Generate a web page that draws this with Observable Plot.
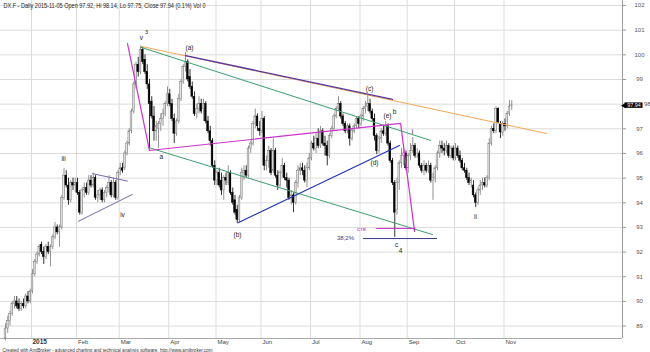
<!DOCTYPE html>
<html><head><meta charset="utf-8">
<script src="https://cdn.jsdelivr.net/npm/d3@7"></script>
<script src="https://cdn.jsdelivr.net/npm/@observablehq/plot@0.6"></script>
<style>
html,body{margin:0;padding:0;background:#fff;}
#chart svg{display:block;}
</style></head><body><div id="chart"></div>
<script>
const title = "DX.F - Daily 2015-11-05 Open 97.92, Hi 98.14, Lo 97.75, Close 97.94 (0.1%) Vol 0";
const credit = "Created with AmiBroker - advanced charting and technical analysis software. http://www.amibroker.com";

// daily candles [open, high, low, close], mid-Dec 2014 .. 2015-11-05
const candles = [
[88.5,89.1,88.4,88.9],[88.9,89.4,88.7,89.2],[89.2,89.6,89.0,89.5],[89.5,90.0,89.4,89.9],[89.9,90.2,89.7,90.0],[90.0,90.2,89.7,89.8],[89.9,90.1,89.6,89.7],[89.7,90.0,89.6,89.9],[89.9,90.1,89.7,89.8],[89.8,90.3,89.7,90.2],[90.2,90.4,89.9,90.0],[90.0,90.5,89.9,90.4],
[90.4,91.3,90.3,91.1],[91.1,91.7,91.0,91.6],[91.6,92.0,91.5,91.9],[91.9,92.3,91.8,92.2],[92.3,92.4,91.9,92.0],[92.0,92.2,91.5,91.8],[91.8,92.3,91.7,92.2],[92.2,92.4,91.9,92.0],[92.0,92.3,91.4,92.2],[92.2,92.7,92.1,92.6],[92.6,93.2,92.5,93.0],[93.0,93.1,92.7,92.8],[92.8,93.1,92.2,93.0],[93.0,94.3,92.9,94.2],[94.2,95.4,94.1,95.1],[95.1,95.3,94.6,94.7],[94.7,95.0,93.9,94.1],[94.1,94.9,94.0,94.8],[94.8,95.0,94.5,94.7],[94.7,95.0,94.4,94.8],
[94.8,95.0,94.3,94.4],[94.4,94.5,93.5,93.6],[93.6,94.6,93.5,94.5],[94.5,94.8,94.2,94.6],[94.6,94.8,94.3,94.4],[94.4,95.1,94.3,94.9],[94.9,95.1,94.6,94.7],[94.7,95.2,94.6,95.0],[95.0,95.1,94.1,94.2],[94.2,94.5,94.0,94.3],[94.3,94.6,94.1,94.5],[94.5,94.6,94.0,94.1],[94.1,94.5,94.0,94.4],[94.4,94.7,94.2,94.6],[94.6,95.1,94.4,94.8],[94.8,94.9,94.2,94.3],[94.3,95.0,94.2,94.8],[94.8,94.9,94.1,94.2],[94.2,95.3,94.1,95.2],
[95.2,95.6,95.1,95.4],[95.4,95.6,95.2,95.3],[95.4,96.1,95.3,96.0],[96.0,96.5,95.9,96.4],[96.4,97.0,96.3,96.9],[96.9,97.8,96.8,97.7],[97.7,98.9,97.6,98.8],[98.8,99.7,98.6,99.6],[99.6,99.9,99.1,99.3],[99.3,100.35,99.2,100.2],[100.2,100.3,99.6,99.7],[99.8,100.0,99.2,99.3],[99.3,99.6,98.6,98.8],[98.8,99.0,96.15,98.0],[98.1,98.3,97.4,97.5],[97.5,97.9,96.5,96.9],[96.9,97.3,96.5,97.1],[97.0,97.3,96.2,97.2],[97.2,97.6,96.9,97.4],[97.4,97.8,97.1,97.6],[97.6,98.1,97.5,98.0],[98.0,98.7,97.9,98.4],
[98.4,98.6,97.9,98.0],[98.0,98.2,97.3,97.4],[97.4,97.6,96.4,96.8],[96.8,97.4,96.7,97.3],[97.3,98.4,97.2,98.2],[98.2,99.0,98.1,98.9],[98.9,99.6,98.8,99.5],[99.5,100.1,99.3,99.7],[99.7,99.8,98.9,99.0],[99.1,99.4,98.6,98.7],[98.7,98.9,98.2,98.3],[98.3,98.5,97.5,97.6],[97.6,98.0,97.4,97.8],[97.8,98.3,97.6,98.0],[98.0,98.2,97.6,97.7],[97.8,98.2,97.3,98.0],[98.0,98.1,97.2,97.3],[97.3,97.5,96.8,96.9],[96.9,97.1,96.3,96.5],[96.5,96.6,95.4,95.5],[95.5,95.7,94.7,94.9],
[94.9,95.3,94.7,95.2],[95.2,95.4,94.6,94.7],[94.9,95.2,94.3,94.5],[94.5,95.1,94.1,95.0],[95.0,95.2,94.7,94.9],[94.8,95.5,94.7,95.2],[95.2,95.3,94.3,94.4],[94.4,94.6,93.9,94.0],[94.1,94.3,93.5,93.6],[93.7,93.9,93.15,93.3],[93.3,94.3,93.2,94.2],[94.2,95.4,94.1,95.2],[95.2,95.5,94.9,95.3],[95.3,95.5,95.0,95.1],[95.1,96.3,95.0,96.2],[96.2,96.5,96.0,96.4],[96.4,97.3,96.3,97.2],[97.2,97.8,97.0,97.5],[97.5,97.6,96.9,97.1],[97.0,97.3,96.7,96.9],
[96.9,97.7,96.8,97.4],[97.4,97.5,95.3,95.5],[95.5,95.9,95.3,95.7],[95.7,96.3,95.4,96.1],[96.1,96.2,95.1,95.2],[95.3,96.6,95.2,96.1],[96.1,96.2,95.0,95.1],[95.1,95.3,94.5,94.7],[94.7,95.3,94.6,95.2],[95.2,95.8,95.0,95.5],[95.5,95.6,94.9,95.0],[95.0,95.2,94.6,94.9],[94.9,95.0,94.1,94.2],[94.2,94.5,93.9,94.3],[94.3,94.4,93.6,94.0],[94.0,94.9,93.9,94.8],[94.8,95.5,94.6,95.3],[95.3,95.6,95.1,95.4],[95.4,95.6,95.1,95.3],[95.3,95.5,94.8,94.9],[94.9,95.6,94.6,95.4],[95.4,96.0,95.3,95.8],
[95.8,96.5,95.7,96.4],[96.4,96.7,96.1,96.2],[96.2,96.8,96.0,96.6],[96.6,97.0,96.2,96.3],[96.3,97.1,96.2,96.9],[96.9,97.0,96.3,96.4],[96.4,96.7,95.9,96.3],[96.3,96.5,95.5,95.9],[95.9,96.8,95.8,96.7],[96.7,97.1,96.6,97.0],[97.0,97.6,96.9,97.5],[97.5,97.9,97.4,97.8],[97.8,98.3,97.7,98.0],[98.0,98.1,97.4,97.5],[97.5,97.6,97.1,97.2],[97.2,97.3,96.8,96.9],[96.9,97.2,96.8,97.1],[97.1,97.2,96.3,96.6],[96.6,97.0,96.5,96.9],[96.9,97.2,96.8,97.1],[97.1,97.5,97.0,97.4],[97.4,97.5,97.0,97.2],
[97.2,97.6,97.1,97.5],[97.5,97.9,97.3,97.8],[97.8,98.1,97.6,97.9],[97.9,98.35,97.7,98.0],[98.0,98.2,97.6,97.7],[97.7,97.8,97.3,97.4],[97.4,97.6,96.5,96.7],[96.7,96.8,95.95,96.1],[96.1,96.7,96.0,96.6],[96.6,97.0,96.4,96.9],[96.9,97.1,96.7,96.8],[96.8,97.3,96.7,97.1],[97.1,97.2,96.3,96.4],[96.4,96.5,95.6,95.7],[95.7,95.8,94.7,94.8],[94.8,94.9,92.6,93.6],[93.7,95.0,93.5,94.8],[94.8,95.7,94.5,95.6],[95.6,96.2,95.4,95.9],[95.9,96.2,95.5,96.0],[96.0,96.1,95.3,95.4],
[95.4,96.0,95.2,95.9],[95.9,96.4,95.7,96.1],[96.1,96.65,96.0,96.3],[96.3,96.4,95.8,95.9],[96.0,96.2,95.8,96.0],[96.0,96.1,95.4,95.5],[95.5,95.6,95.2,95.3],[95.3,95.7,95.1,95.5],[95.5,95.6,95.2,95.3],[95.3,95.7,95.2,95.5],[95.5,95.6,94.8,94.9],[94.9,95.2,94.1,95.0],[95.0,95.5,94.8,95.4],[95.4,96.1,95.3,96.0],[96.0,96.5,95.8,96.3],[96.3,96.5,96.0,96.2],[96.2,96.4,95.9,96.1],[96.1,96.5,96.0,96.3],[96.3,96.4,95.8,95.9],[95.9,96.3,95.8,96.2],[96.2,96.3,95.7,95.8],
[95.8,96.4,95.7,96.2],[96.2,96.3,95.8,95.9],[95.9,96.1,95.6,95.7],[95.7,95.8,95.3,95.4],[95.4,95.6,95.2,95.3],[95.3,95.4,94.9,95.0],[95.0,95.2,94.7,94.8],[94.8,95.0,94.6,94.9],[94.7,94.9,94.2,94.3],[94.3,94.4,93.8,94.0],[94.0,94.6,93.9,94.5],[94.5,94.9,94.3,94.7],[94.7,95.0,94.5,94.8],[94.8,95.0,94.6,94.7],[94.7,95.1,94.6,95.0],[95.0,96.6,94.9,96.4],[96.4,97.1,96.3,97.0],[97.0,97.2,96.8,96.9],[96.9,97.9,96.8,97.8],[97.8,97.85,97.2,97.25],[97.2,97.3,96.6,96.85],[96.85,97.3,96.7,97.2],
[97.2,97.4,96.9,97.1],[97.1,97.7,97.0,97.6],[97.6,98.15,97.5,97.9],[97.92,98.14,97.75,97.94]
];

// month start bar indices and labels
const monthStarts = [12,32,51,73,94,114,136,158,179,200,222];
const monthLabels = ["2015","Feb","Mar","Apr","May","Jun","Jul","Aug","Sep","Oct","Nov"];
const yTicks = [89,90,91,92,93,94,95,96,97,98,99,100,101,102];

// drawn trend lines, [bar index, price]
const magentaPath = [[54.2,100.46],[64.0,96.12],[175.6,97.22],[181.8,92.84]];
const magentaFlat = [[164.9,92.96],[181.8,92.96]];
const orangeLine = [[60,100.35],[240.4,96.81]];
const greenUpper = [[60,100.31],[188.9,96.53]];
const greenLower = [[63.6,96.24],[189.8,92.71]];
const purpleLine = [[80,99.97],[172,98.19]];
const blueLine = [[103.6,93.2],[175.1,96.32]];
const triUpper = [[38.7,95.18],[54.2,94.88]];
const triLower = [[32.4,93.25],[56.4,94.34]];
const fibLine = [[159.1,92.55],[191.6,92.55]];

// wave labels
const waveLabels = [
 {i:60.4,v:100.70,t:"v"},{i:25.8,v:95.76,t:"iii"},{i:52,v:93.49,t:"iv"},
 {i:69.3,v:95.88,t:"a"},{i:81.8,v:100.30,t:"(a)"},{i:103.1,v:92.71,t:"(b)"},
 {i:161.8,v:98.63,t:"(c)"},{i:164,v:95.63,t:"(d)"},{i:169.8,v:97.54,t:"(e)"},
 {i:172.9,v:97.70,t:"b"},{i:180.9,v:96.89,t:"i"},{i:173.8,v:92.31,t:"c"},
 {i:175.6,v:92.03,t:"4"},{i:208.9,v:93.44,t:"ii"}
];

const bars = candles.map(([o,h,l,c],i)=>({i,o,h,l,c,up:c>=o}));
const last = bars[bars.length-1].c;
const xDomain = [-5/2.25, 617/2.25];
const yDomain = [102.203-338/24.66, 102.203];
const axisTicks = yTicks.filter(d=>d!==98);
const px = p => (p-5)/2.25; // pixel column -> bar index position

const chart = Plot.plot({
  width:650, height:352, marginLeft:0, marginRight:28, marginTop:0, marginBottom:14,
  style:{fontFamily:"'Liberation Sans', Arial, sans-serif", fontSize:"6px", background:"#fff", overflow:"visible"},
  x:{type:"linear", domain:xDomain, axis:null},
  y:{type:"linear", domain:yDomain, axis:null},
  marks:[
    Plot.ruleY(yTicks,{stroke:"#dcdcdc", strokeWidth:1}),
    Plot.ruleX(monthStarts,{x:d=>d-0.45, stroke:"#dcdcdc", strokeWidth:1}),
    Plot.ruleX([xDomain[1]],{stroke:"#999"}),
    Plot.ruleY([yDomain[0]],{stroke:"#aaa"}),
    Plot.axisY({anchor:"right", ticks:yTicks, tickSize:3, tickFormat:()=>"", stroke:"#999"}),
    Plot.text(axisTicks,{y:d=>d, frameAnchor:"right", dx:17, textAnchor:"middle", text:d=>String(d), fill:"#555", fontSize:6}),
    Plot.text([98],{y:d=>d, frameAnchor:"right", dx:21.5, textAnchor:"start", text:d=>String(d), fill:"#555", fontSize:6}),
    Plot.text(monthStarts.slice(1),{x:d=>d, frameAnchor:"bottom", dy:5, dx:0.5, textAnchor:"start", text:(d,k)=>monthLabels[k+1], fill:"#444", fontSize:6}),
    Plot.text([monthStarts[0]],{x:d=>d, frameAnchor:"bottom", dy:5, dx:0, textAnchor:"start", text:()=>monthLabels[0], fill:"#333", fontSize:6.5, fontWeight:"bold"}),
    // candles
    Plot.ruleX(bars,{x:"i", y1:"l", y2:"h", stroke:d=>d.up?"#777777":"#000000", strokeWidth:0.8}),
    Plot.rect(bars,{x1:d=>d.i-0.38, x2:d=>d.i+0.38, y1:d=>Math.min(d.o,d.c), y2:d=>Math.max(d.o,d.c), fill:d=>d.up?"#e6e6e6":"#000000", stroke:d=>d.up?"#777777":"#000000", strokeWidth:0.5}),
    // trend lines
    Plot.line(orangeLine,{stroke:"#f2a65a", strokeWidth:1}),
    Plot.line(greenUpper,{stroke:"#3a9e6e", strokeWidth:1}),
    Plot.line(greenLower,{stroke:"#3a9e6e", strokeWidth:1}),
    Plot.line(purpleLine,{stroke:"#55339e", strokeWidth:1.3}),
    Plot.line(blueLine,{stroke:"#2233b5", strokeWidth:1.2}),
    Plot.line(triUpper,{stroke:"#7a66b0", strokeWidth:1}),
    Plot.line(triLower,{stroke:"#7a66b0", strokeWidth:1}),
    Plot.line(fibLine,{stroke:"#3b3b8a", strokeWidth:1}),
    Plot.line(magentaPath,{stroke:"#cc33cc", strokeWidth:1.2}),
    Plot.line(magentaFlat,{stroke:"#cc33cc", strokeWidth:1}),
    // labels
    Plot.text(waveLabels,{x:"i", y:"v", text:"t", fill:"#222", fontSize:6.5}),
    Plot.text([{i:62.7,v:100.9}],{x:"i", y:"v", text:()=>"3", fill:"#222", fontSize:5.5}),
    Plot.text([{i:158.2,v:92.92}],{x:"i", y:"v", text:()=>"ств", fill:"#cc33cc", fontSize:6}),
    Plot.text([{i:151.1,v:92.55}],{x:"i", y:"v", text:()=>"38,2%", fill:"#3b3b8a", fontSize:6}),
    // last price label
    Plot.rect([last],{x1:()=>px(624.5), x2:()=>px(642.5), y1:d=>d-0.11, y2:d=>d+0.11, fill:"#000"}),
    Plot.dot([last],{x:()=>px(623.6), y:d=>d, symbol:"triangle", r:2, fill:"#000", rotate:-90}),
    Plot.text([last],{x:()=>px(633.5), y:d=>d, text:d=>d.toFixed(2), fill:"#fff", fontSize:5.5}),
    // title and credit
    Plot.text([title],{frameAnchor:"top-left", dx:3, dy:5, textAnchor:"start", lineAnchor:"middle", text:d=>d, fill:"#222", fontSize:7}),
    Plot.text([credit],{frameAnchor:"bottom-left", dx:2, dy:11.5, textAnchor:"start", lineAnchor:"middle", text:d=>d, fill:"#333", fontSize:5})
  ]
});

chart.querySelectorAll("text").forEach(t=>{
  if (t.textContent===title){t.setAttribute("textLength","202");t.setAttribute("lengthAdjust","spacingAndGlyphs");}
  if (t.textContent===credit){t.setAttribute("textLength","210");t.setAttribute("lengthAdjust","spacingAndGlyphs");}
});
document.getElementById("chart").appendChild(chart);
</script></body></html>
